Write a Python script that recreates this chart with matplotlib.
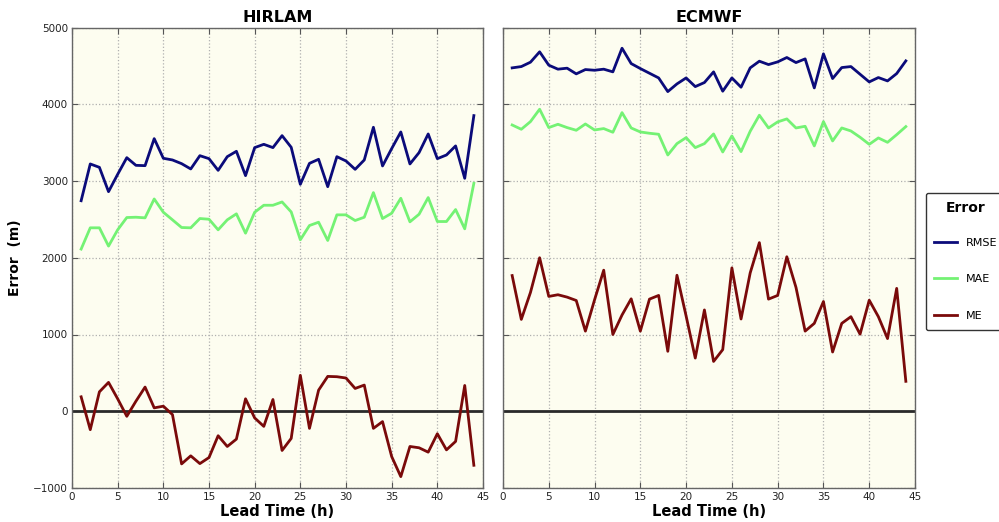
import matplotlib
matplotlib.use("Agg")
import matplotlib.pyplot as plt

lead = list(range(1, 45))

hirlam_rmse = [2743, 3222, 3178, 2861, 3087, 3304, 3204, 3200, 3552, 3296, 3274, 3226, 3157, 3330, 3291, 3139,
               3317, 3387, 3070, 3435, 3478, 3435, 3591, 3439, 2957, 3230, 3283, 2926, 3317, 3261, 3152, 3274,
               3700, 3196, 3422, 3639, 3222, 3370, 3613, 3291, 3339, 3457, 3035, 3852]
hirlam_mae = [2113, 2390, 2390, 2152, 2364, 2524, 2528, 2520, 2766, 2593, 2494, 2394, 2390, 2511, 2502, 2364,
              2494, 2572, 2320, 2593, 2684, 2684, 2727, 2597, 2234, 2420, 2463, 2225, 2559, 2559, 2485, 2528,
              2849, 2511, 2580, 2775, 2468, 2567, 2784, 2472, 2472, 2628, 2377, 2970]
hirlam_me = [188, -240, 253, 376, 162, -66, 131, 315, 44, 66, -44, -686, -581, -682, -603, -319,
             -459, -363, 162, -87, -197, 153, -511, -354, 468, -223, 275, 454, 450, 433, 297, 341,
             -223, -135, -590, -852, -459, -476, -533, -293, -503, -393, 336, -704]

ecmwf_rmse = [4474, 4491, 4548, 4683, 4509, 4457, 4470, 4396, 4452, 4443, 4457, 4422, 4730, 4530, 4465, 4404,
              4343, 4165, 4265, 4343, 4230, 4283, 4422, 4170, 4343, 4222, 4474, 4561, 4517, 4552, 4609, 4543,
              4591, 4213, 4657, 4335, 4478, 4491, 4391, 4291, 4348, 4304, 4400, 4565]
ecmwf_mae = [3730, 3674, 3774, 3935, 3696, 3739, 3696, 3661, 3743, 3665, 3683, 3635, 3891, 3691, 3639, 3622,
             3609, 3339, 3487, 3565, 3435, 3487, 3613, 3378, 3587, 3383, 3648, 3857, 3691, 3770, 3809, 3691,
             3713, 3457, 3774, 3522, 3691, 3652, 3570, 3478, 3561, 3504, 3604, 3709]
ecmwf_me = [1768, 1197, 1548, 2000, 1496, 1518, 1487, 1443, 1044, 1452, 1838, 1000, 1254, 1465, 1044, 1461,
            1509, 781, 1772, 1241, 693, 1320, 649, 803, 1868, 1202, 1803, 2197, 1461, 1509, 2013, 1614,
            1044, 1145, 1430, 772, 1145, 1232, 1004, 1447, 1232, 947, 1601, 390]

panel_titles = ["HIRLAM", "ECMWF"]
series_names = ["RMSE", "MAE", "ME"]
x_ticks = [0, 5, 10, 15, 20, 25, 30, 35, 40, 45]
y_ticks = [-1000, 0, 1000, 2000, 3000, 4000, 5000]

colors = ["#0b0b7a", "#74f274", "#7a0a0a"]
bg = "#fdfdf0"

W, H = 999, 522
fig = plt.figure(figsize=(W / 100, H / 100), dpi=100)
fig.patch.set_facecolor("white")

def px_axes(l, r, t, b):
    return fig.add_axes([l / W, (H - b) / H, (r - l) / W, (b - t) / H])

ax1 = px_axes(72, 483, 27.5, 488)
ax2 = px_axes(503, 915, 27.5, 488)

data = [[hirlam_rmse, hirlam_mae, hirlam_me], [ecmwf_rmse, ecmwf_mae, ecmwf_me]]
handles = []
for i, (ax, series, title) in enumerate(zip([ax1, ax2], data, panel_titles)):
    ax.set_facecolor(bg)
    ax.axhline(0, color="#2a2a2a", lw=2.0, zorder=2)
    for vals, c, name in zip(series, colors, series_names):
        ln, = ax.plot(lead, vals, color=c, lw=2.0, label=name, zorder=3)
        if i == 0:
            handles.append(ln)
    ax.set_xlim(0, 45)
    ax.set_ylim(-1000, 5000)
    ax.set_xticks(x_ticks)
    ax.set_yticks(y_ticks)
    ax.grid(True, color="#b0b0b0", linestyle=":", linewidth=0.9)
    ax.tick_params(direction="in", top=True, right=True, length=4, width=0.8,
                   colors="#555555", labelcolor="#222222", labelsize=7.5, pad=3)
    for s in ax.spines.values():
        s.set_color("#666666")
        s.set_linewidth(1.0)
    ax.set_title(title, fontsize=11.5, fontweight="bold", pad=4)
    ax.set_xlabel("Lead Time (h)", fontsize=10.5, fontweight="bold", labelpad=1)

ax2.tick_params(labelleft=False)
ax1.set_ylabel("Error  (m)", fontsize=10, fontweight="bold", labelpad=8)

leg = fig.legend(handles, series_names, title="Error", loc="upper left",
                 bbox_to_anchor=(920 / W, 1 - 187 / H), bbox_transform=fig.transFigure,
                 fontsize=8, title_fontproperties={"weight": "bold", "size": 10},
                 labelspacing=2.4, handlelength=2.0, handletextpad=0.8,
                 borderpad=0.8, fancybox=True, framealpha=1.0, edgecolor="#333333")
leg.get_frame().set_linewidth(1.0)
leg._legend_box.sep = 16

fig.savefig("out.png", dpi=100)
